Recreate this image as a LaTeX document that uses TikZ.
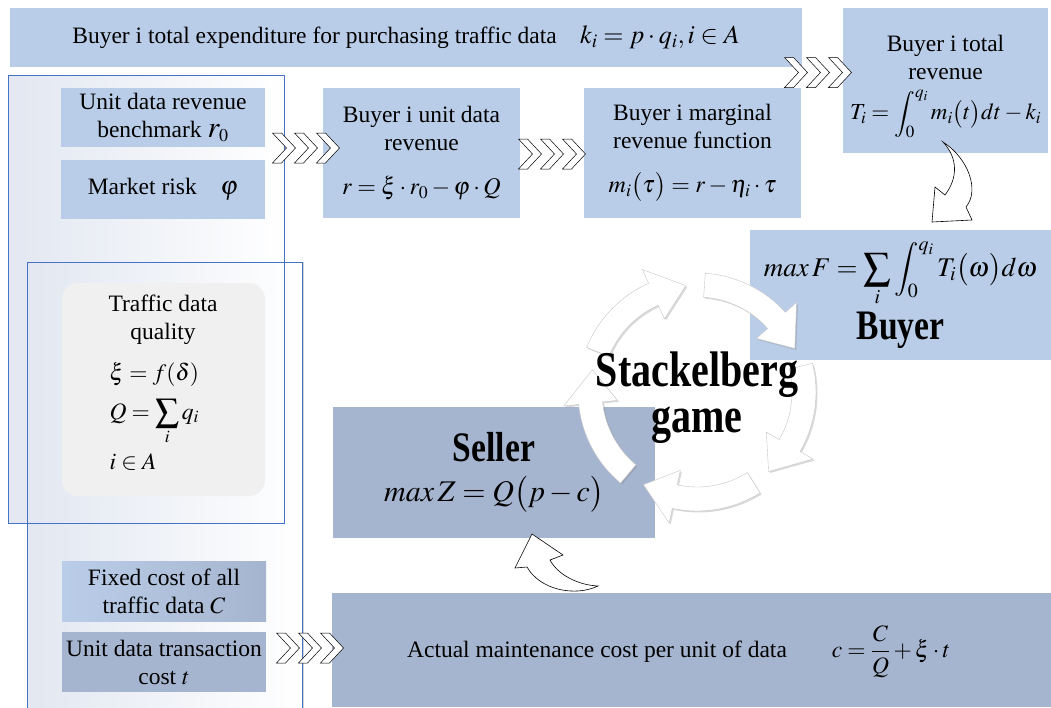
\documentclass[tikz,border=0pt]{standalone}
\usepackage{amsmath}
\usepackage{mathptmx}
\usepackage{fontspec}
\setmainfont{Liberation Serif}
\usepackage{graphicx}
\usetikzlibrary{calc, shadows}

\definecolor{paleblue}{HTML}{BACDE8}
\definecolor{slateblue}{HTML}{A6B5CF}
\definecolor{edgeblue}{HTML}{4472C4}
\definecolor{paneltint}{HTML}{E2E7F1}
\definecolor{softgray}{HTML}{F0F0F0}

\begin{document}
\begin{tikzpicture}[
                x = 1pt, y = 1pt,
                blockbox/.style = {
                    rectangle,
                    anchor      = north west,
                    inner sep   = 0pt,
                    outer sep   = 0pt,
                    align       = center,
                    font        = \fontsize{23.5}{28}\selectfont
                },
                lightbox/.style = {blockbox, fill = paleblue},
                darkbox/.style  = {blockbox, fill = slateblue},
                panel/.style    = {blockbox, left color = paneltint, right color = white},
                edge/.style     = {draw = edgeblue, line width = 0.8pt},
                plain/.style    = {font = \fontsize{23.5}{28}\selectfont},
                chevron/.style  = {draw = black, fill = white, line width = 0.5pt},
                ringarrow/.style = {
                    draw = gray!45, fill = white, line width = 0.4pt,
                    drop shadow = {shadow xshift = 1.5pt, shadow yshift = -1.5pt, opacity = 0.3}
                },
                bentarrow/.style = {draw = black, fill = white, line width = 0.6pt},
                bigword/.style   = {font = \fontsize{50}{46}\selectfont\bfseries, align = center},
                chevrons/.pic = {
                    \foreach \k in {0,...,2}
                        \draw[chevron] ({-33.5 + 22*\k}, 15) -- ++(9, 0) -- ++(14, -15)
                            -- ++(-14, -15) -- ++(-9, 0) -- ++(14, 15) -- cycle;
                }
            ]

                \useasboundingbox (0, 0) rectangle (1051, -707);

                % two framed panels on the left
                \node[panel, minimum width = 276, minimum height = 448] (revpanel) at (8, -75) {};
                \node[panel, minimum width = 275, minimum height = 452,
                      drop shadow = {shadow xshift = 2pt, shadow yshift = 0pt, opacity = 0.35}] (costpanel) at (27, -262) {};
                \draw[edge] (revpanel.north west) rectangle (revpanel.south east);
                \draw[edge] (costpanel.north west) rectangle (costpanel.south east);

                % buyer side
                \node[lightbox, minimum width = 792, minimum height = 59] (expend) at (10, -8)
                    {Buyer i total expenditure for purchasing traffic data\quad {\fontsize{26}{28}\selectfont$k_i = p\cdot q_i, i\in A$}};
                \node[lightbox, minimum width = 205, minimum height = 145] (totrev) at (843, -8) {};
                \node[plain, align = center] (totrevtext) at ($(totrev.center) + (0, -6)$)
                    {Buyer i total\\ revenue\\[10pt] {\fontsize{23}{28}\selectfont$T_i=\displaystyle\int_0^{q_i} m_i\bigl(t\bigr)dt-k_i$}};
                \node[lightbox, minimum width = 204, minimum height = 59] (bench) at (61, -88)
                    {Unit data revenue\\ benchmark\ {\fontsize{30}{28}\selectfont$r_{\scriptscriptstyle 0}$}};
                \node[lightbox, minimum width = 204, minimum height = 59] (risk) at (61, -160)
                    {Market risk\quad {\fontsize{26}{28}\selectfont$\varphi$}};
                \node[lightbox, minimum width = 197, minimum height = 130] (unitrev) at (323, -88)
                    {Buyer i unit data\\ revenue\\[16pt] {\fontsize{24}{28}\selectfont$r=\xi\cdot r_0-\varphi\cdot Q$}};
                \node[lightbox, minimum width = 217, minimum height = 130] (margrev) at (584, -88)
                    {Buyer i marginal\\ revenue function\\[16pt] {\fontsize{24}{28}\selectfont$m_i\bigl(\tau\bigr)=r-\eta_i\cdot\tau$}};
                \node[lightbox, minimum width = 301, minimum height = 130] (buyer) at (750, -230)
                    {{\fontsize{27}{30}\selectfont$max\,F=\displaystyle\sum_i\int_0^{q_i}T_i\bigl(\omega\bigr)d\omega$}\\[4pt]
                     {\fontsize{42}{40}\selectfont\bfseries\scalebox{0.8}[1]{Buyer}}};

                % data quality
                \node[blockbox, fill = softgray, rounded corners = 16pt,
                      minimum width = 203, minimum height = 213] (quality) at (62, -283) {};
                \node[plain, align = center] (qualtitle) at (163, -320) {Traffic data\\ quality};
                \node[plain, anchor = west] (xiform) at (106, -374) {$\xi=f(\delta)$};
                \node[plain, anchor = west] (qform) at (106, -422) {$Q=\displaystyle\sum_i q_i$};
                \node[plain, anchor = west] (aform) at (106, -462) {$i\in A$};

                % seller side
                \node[darkbox, minimum width = 322, minimum height = 131] (seller) at (333, -407)
                    {{\fontsize{42}{40}\selectfont\bfseries\scalebox{0.8}[1]{Seller}}\\[12pt]
                     {\fontsize{30}{32}\selectfont$max\,Z=Q\bigl(p-c\bigr)$}};
                \node[blockbox, left color = paleblue, right color = slateblue,
                      minimum width = 204, minimum height = 60] (fixed) at (62, -561)
                    {Fixed cost of all\\ traffic data $C$};
                \node[darkbox, minimum width = 204, minimum height = 60] (trans) at (62, -632)
                    {Unit data transaction\\ cost $t$};
                \node[darkbox, minimum width = 719, minimum height = 114] (cost) at (332, -593) {};
                \node[plain] (costtext) at (597, -652) {Actual maintenance cost per unit of data};
                \node[plain] (costform) at (891, -652) {$c=\dfrac{C}{Q}+\xi\cdot t$};

                % chevron links
                \pic at ($(totrev.west) + (-25, 8)$) {chevrons};
                \pic at ($(unitrev.west) + (-17, 5)$) {chevrons};
                \pic at ($(margrev.west) + (-32, -1)$) {chevrons};
                \pic at ($(cost.west) + (-22, 2)$) {chevrons};

                % game cycle
                \coordinate (hub) at (697, -392);
                \foreach \a in {158, 86, 14, -58, -130}
                    \draw[ringarrow, shift = {(hub)}] (\a:119)
                        arc[start angle = \a, end angle = \a - 44, radius = 119]
                        -- ({\a - 44}:134) -- ({\a - 62}:107) -- ({\a - 44}:80) -- ({\a - 44}:95)
                        arc[start angle = \a - 44, end angle = \a, radius = 95] -- cycle;
                \node[bigword] (game) at ($(hub) + (0, -6)$)
                    {\scalebox{0.8}[1]{Stackelberg}\\ \scalebox{0.8}[1]{game}};

                % bent arrows
                \draw[bentarrow] (943, -142) .. controls (968, -158) and (980, -190) .. (966, -207)
                    -- (972, -220) -- (932, -222) -- (935, -187) -- (945, -195)
                    .. controls (958, -178) and (958, -158) .. (943, -142) -- cycle;
                \draw[bentarrow] (598, -586) .. controls (575, -597) and (540, -590) .. (527, -567)
                    -- (515, -568) -- (532, -534) -- (563, -555) -- (550, -560)
                    .. controls (558, -575) and (578, -585) .. (598, -586) -- cycle;
            \end{tikzpicture}
\end{document}
